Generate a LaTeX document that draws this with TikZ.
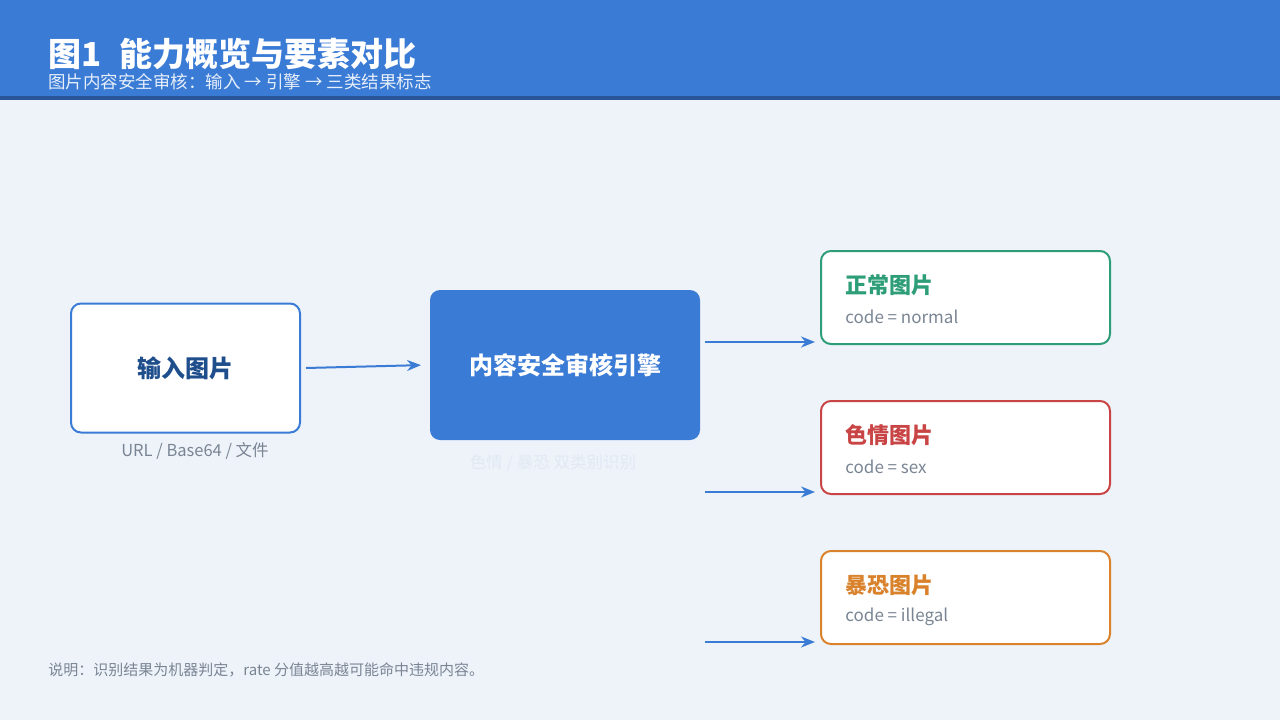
\documentclass[tikz,border=0pt]{standalone}
\usepackage{fontspec}
\setmainfont{Noto Sans CJK SC}
\usepackage{xcolor}
\usetikzlibrary{arrows.meta,positioning,calc}
\definecolor{hdrblue}{HTML}{3A7BD5}
\definecolor{hdrline}{HTML}{2A5699}
\definecolor{bgpale}{HTML}{EEF3FA}
\definecolor{navy}{HTML}{1F4E8C}
\definecolor{textgray}{HTML}{7A8594}
\definecolor{okgreen}{HTML}{2E9E78}
\definecolor{sexred}{HTML}{C94545}
\definecolor{badorange}{HTML}{D9822B}
\definecolor{faint}{HTML}{E2E9F3}
\begin{document}
\begin{tikzpicture}[x=1pt, y=-1pt, >={Stealth[length=14pt,width=11pt]}, thick,
  every node/.style={inner sep=0pt},
  block/.style={rectangle, rounded corners=10pt, line width=2pt, align=center},
  result/.style={block, draw, fill=white, minimum width=289pt, minimum height=93pt},
  rtitle/.style={anchor=west, font=\fontsize{22}{26}\selectfont\bfseries},
  rcode/.style={anchor=west, font=\fontsize{17}{20}\selectfont, text=textgray},
  flow/.style={->, hdrblue, line width=2pt, shorten >=5pt}
]
\useasboundingbox (0,0) rectangle (1280,720);
\fill[bgpale] (0,0) rectangle (1280,720);

% Header band
\fill[hdrblue] (0,0) rectangle (1280,96);
\fill[hdrline] (0,96) rectangle (1280,100);
\node[anchor=west, text=white, font=\fontsize{33}{38}\selectfont\bfseries] (title) at (48,54) {图1\hspace{18pt}能力概览与要素对比};
\node[anchor=west, text=white!88!hdrblue, font=\fontsize{17.5}{20}\selectfont] (subtitle) at (48,82) {图片内容安全审核：输入 → 引擎 → 三类结果标志};

% Input and engine
\node[block, draw=hdrblue, fill=white, minimum width=229pt, minimum height=129pt,
  font=\fontsize{24}{28}\selectfont\bfseries, text=navy] (input) at (185.5,368) {输入图片};
\node[text=textgray, font=\fontsize{16.5}{19}\selectfont] (inputnote) at (195,451) {URL / Base64 / 文件};
\node[block, fill=hdrblue, minimum width=270pt, minimum height=150pt,
  font=\fontsize{24}{28}\selectfont\bfseries, text=white] (engine) at (565,365) {内容安全审核引擎};
\node[text=faint, font=\fontsize{16.5}{19}\selectfont] (enginenote) at (553,463) {色情 / 暴恐 双类别识别};

% Result boxes
\node[result, draw=okgreen] (normal) at (965.5,297.5) {};
\node[rtitle, text=okgreen] (normalt) at (845,285) {正常图片};
\node[rcode] (normalc) at (845,317) {code = normal};

\node[result, draw=sexred] (sex) at (965.5,447.5) {};
\node[rtitle, text=sexred] (sext) at (845,435) {色情图片};
\node[rcode] (sexc) at (845,467) {code = sex};

\node[result, draw=badorange] (illegal) at (965.5,597.5) {};
\node[rtitle, text=badorange] (illegalt) at (845,585) {暴恐图片};
\node[rcode] (illegalc) at (845,617) {code = illegal};

% Arrow ends
\coordinate (o1) at (705,342);
\coordinate (o2) at (705,492);
\coordinate (o3) at (705,642);

% Arrows
\draw[flow] ($(input.east)+(5,0)$) -- ($(engine.west)+(-3,0)$);
\draw[flow] (o1) -- (o1 -| normal.west);
\draw[flow] (o2) -- (o2 -| sex.west);
\draw[flow] (o3) -- (o3 -| illegal.west);

% Footnote
\node[anchor=west, text=textgray, font=\fontsize{15}{18}\selectfont] (footnote) at (48,670) {说明：识别结果为机器判定，rate 分值越高越可能命中违规内容。};
\end{tikzpicture}
\end{document}
